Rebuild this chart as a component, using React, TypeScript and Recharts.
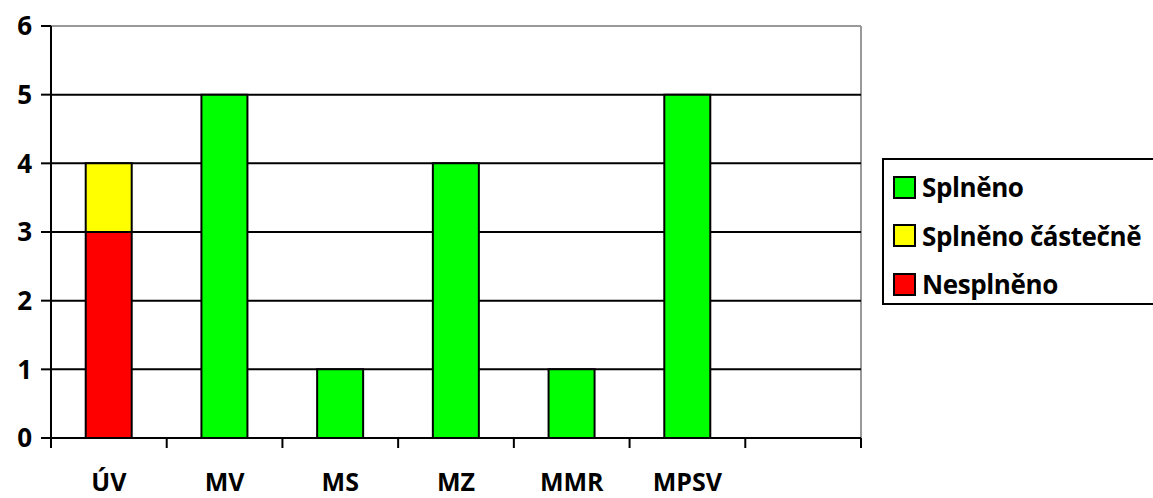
import { BarChart, Bar, XAxis, YAxis, CartesianGrid } from 'recharts'

const categories = ['ÚV', 'MV', 'MS', 'MZ', 'MMR', 'MPSV', '']
const splneno = [0, 5, 1, 4, 1, 5, 0]
const castecne = [1, 0, 0, 0, 0, 0, 0]
const nesplneno = [3, 0, 0, 0, 0, 0, 0]
const yTicks = [0, 1, 2, 3, 4, 5, 6]
const gridValues = [1, 2, 3, 4, 5]

const series = [
  { key: 'splneno', name: 'Splněno', color: '#00ff00' },
  { key: 'castecne', name: 'Splněno částečně', color: '#ffff00' },
  { key: 'nesplneno', name: 'Nesplněno', color: '#ff0000' },
]

const data = categories.map((c, i) => ({
  name: c,
  splneno: splneno[i] || null,
  castecne: castecne[i] || null,
  nesplneno: nesplneno[i] || null,
}))

const font = '"Open Sans", Lato, sans-serif'
const tickStyle = { fill: '#000', fontSize: 26, fontWeight: 700, fontFamily: font }
const X_MARGIN = 35
const TICK_LEN = 10

// category label plus tick marks on the band boundaries
function CategoryTick(props: any) {
  const { x, y, payload, width, visibleTicksCount, index } = props
  const band = width / visibleTicksCount
  const axisY = y - X_MARGIN
  const left = x - band / 2
  return (
    <g>
      <line x1={left} x2={left} y1={axisY} y2={axisY + TICK_LEN} stroke="#000" strokeWidth={2} />
      {index === visibleTicksCount - 1 && (
        <line x1={left + band} x2={left + band} y1={axisY} y2={axisY + TICK_LEN} stroke="#000" strokeWidth={2} />
      )}
      <text x={x} y={y} dy="0.71em" textAnchor="middle" {...tickStyle} fontSize={25}>
        {payload.value}
      </text>
    </g>
  )
}

export default function App() {
  return (
    <div style={{ position: 'absolute', left: 0, top: 0, width: 1153, height: 498, overflow: 'hidden', background: '#fff' }}>
      <BarChart
        width={1153}
        height={498}
        data={data}
        margin={{ top: 26, right: 292, left: 0, bottom: 0 }}
        barCategoryGap="30%"
      >
        <CartesianGrid
          stroke="#999"
          strokeWidth={2}
          horizontalValues={[6]}
          verticalCoordinatesGenerator={({ offset }: any) => [offset.left + offset.width]}
        />
        <CartesianGrid vertical={false} stroke="#000" strokeWidth={2} horizontalValues={gridValues} />
        <YAxis
          width={51}
          domain={[0, 6]}
          ticks={yTicks}
          interval={0}
          stroke="#000"
          strokeWidth={2}
          tickSize={10}
          tickMargin={9}
          tick={tickStyle}
        />
        <XAxis
          dataKey="name"
          height={60}
          stroke="#000"
          strokeWidth={2}
          tickLine={false}
          tickSize={0}
          tickMargin={X_MARGIN}
          interval={0}
          tick={<CategoryTick />}
        />
        {[...series].reverse().map((s) => (
          <Bar
            key={s.key}
            dataKey={s.key}
            name={s.name}
            stackId="a"
            fill={s.color}
            stroke="#000"
            strokeWidth={2}
            isAnimationActive={false}
          />
        ))}
      </BarChart>
      <div
        style={{
          position: 'absolute',
          left: 882,
          top: 158,
          width: 300,
          height: 143,
          border: '2px solid #000',
          boxSizing: 'content-box',
          fontFamily: font,
          fontWeight: 700,
          fontSize: 26,
          letterSpacing: -0.4,
          color: '#000',
        }}
      >
        {series.map((s, i) => (
          <div key={s.key} style={{ position: 'absolute', left: 9, top: 8 + i * 48.5, display: 'flex', alignItems: 'center', height: 38, whiteSpace: 'nowrap' }}>
            <span style={{ width: 19, height: 19, background: s.color, border: '2px solid #000', marginRight: 6, flexShrink: 0 }} />
            <span>{s.name}</span>
          </div>
        ))}
      </div>
    </div>
  )
}
